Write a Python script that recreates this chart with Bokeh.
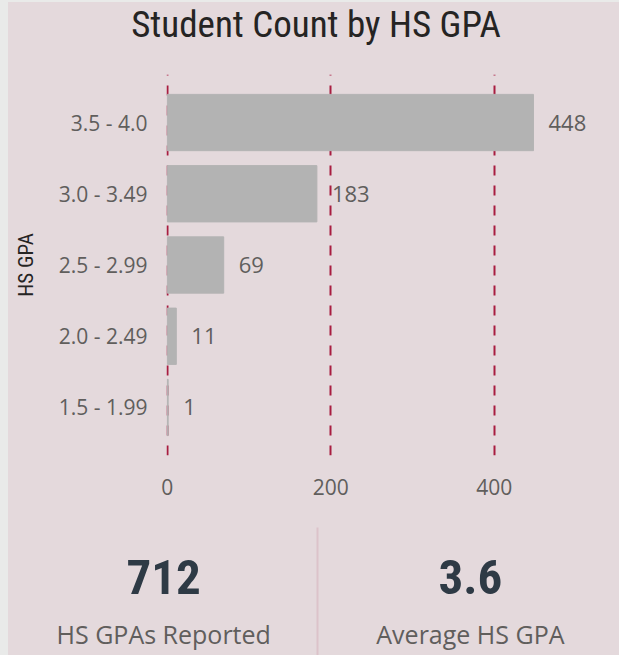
from bokeh.plotting import figure
from bokeh.layouts import column
from bokeh.models import (ColumnDataSource, FactorRange, Range1d, FixedTicker,
                          GlobalInlineStyleSheet)
from bokeh.core.properties import value
from bokeh.embed import file_html
from bokeh.resources import INLINE

# ---- data ----
title_text = "Student Count by HS GPA"
gpa_bands = ["3.5 - 4.0", "3.0 - 3.49", "2.5 - 2.99", "2.0 - 2.49", "1.5 - 1.99"]
student_counts = [448, 183, 69, 11, 1]
x_ticks = [0, 200, 400]
y_axis_title = "HS GPA"
kpi_values = ["712", "3.6"]
kpi_labels = ["HS GPAs Reported", "Average HS GPA"]

# ---- styles ----
BG = "#e4d9dc"
TITLE_C = "#252423"
LABEL_C = "#605e5c"
BAR_C = "#b3b3b3"
GRID_C = "#a81d40"
KPI_C = "#2e3a45"
DIV_C = "#dcc3ca"
COND = "Roboto Condensed"
BODY = "Open Sans"
W = 611


def blank(h):
    f = figure(width=W, height=h, x_range=Range1d(0, W), y_range=Range1d(0, h),
               x_axis_location=None, y_axis_location=None, min_border=0,
               frame_align=False, toolbar_location=None, output_backend="svg")
    f.grid.visible = False
    f.outline_line_color = None
    f.background_fill_color = None
    f.border_fill_color = None
    return f


# ---- title ----
t = blank(64)
t.text(x=[W / 2 + 2], y=[42], text=[title_text], text_align="center", text_baseline="middle",
       text_font=value(COND), text_font_size="37px", text_color=TITLE_C)

# ---- bar chart ----
src = ColumnDataSource(dict(band=gpa_bands, count=student_counts,
                            label=[str(c) for c in student_counts]))
p = figure(width=W, height=448, y_range=FactorRange(*gpa_bands[::-1], range_padding=0.0696),
           x_range=Range1d(-1, 519), toolbar_location=None, output_backend="svg",
           frame_align=False,
           min_border_left=158, min_border_right=28, min_border_top=8, min_border_bottom=59)
p.background_fill_color = None
p.border_fill_color = None
p.outline_line_color = None

p.hbar(y="band", right="count", left=0, height=0.79, source=src, color=BAR_C)
p.text(x="count", y="band", text="label", source=src, x_offset=15, text_align="left",
       text_baseline="middle", text_font=value(BODY), text_font_size="22px", text_color=LABEL_C)

p.ygrid.visible = False
p.xgrid.ticker = FixedTicker(ticks=x_ticks)
p.xgrid.grid_line_color = GRID_C
p.xgrid.grid_line_width = 2
p.xgrid.grid_line_dash = "10 10"

p.xaxis.ticker = FixedTicker(ticks=x_ticks)
p.xaxis.axis_line_color = None
p.xaxis.major_tick_line_color = None
p.xaxis.minor_tick_line_color = None
p.xaxis.major_tick_out = 0
p.xaxis.major_label_standoff = 23
p.xaxis.major_label_text_font = BODY
p.xaxis.major_label_text_font_size = "21px"
p.xaxis.major_label_text_color = LABEL_C

p.yaxis.axis_line_color = None
p.yaxis.major_tick_line_color = None
p.yaxis.major_tick_out = 0
p.yaxis.major_label_standoff = 19
p.yaxis.major_label_text_font = BODY
p.yaxis.major_label_text_font_size = "21px"
p.yaxis.major_label_text_color = LABEL_C
p.yaxis.axis_label = y_axis_title
p.yaxis.axis_label_standoff = 18
p.yaxis.axis_label_text_font = COND
p.yaxis.axis_label_text_font_style = "normal"
p.yaxis.axis_label_text_font_size = "21px"
p.yaxis.axis_label_text_color = TITLE_C

# ---- KPI cards ----
k = blank(141)
centers = [W * 0.254, W * 0.756]
k.text(x=centers, y=[79, 79], text=kpi_values, text_align="center", text_baseline="middle",
       text_font=value(COND), text_font_style="bold", text_font_size="49px", text_color=KPI_C)
k.text(x=centers, y=[22, 22], text=kpi_labels, text_align="center", text_baseline="middle",
       text_font=value(BODY), text_font_size="25px", text_color=LABEL_C)
k.segment(x0=[W / 2 + 3.5], y0=[0], x1=[W / 2 + 3.5], y1=[128], line_color=DIV_C, line_width=2)

layout = column(t, p, k, spacing=0, styles={"background-color": BG},
                stylesheets=[GlobalInlineStyleSheet(css="body{background:#e9eae9;margin:2px 0 0 8px;}")])

open("out.html", "w").write(file_html(layout, INLINE))
